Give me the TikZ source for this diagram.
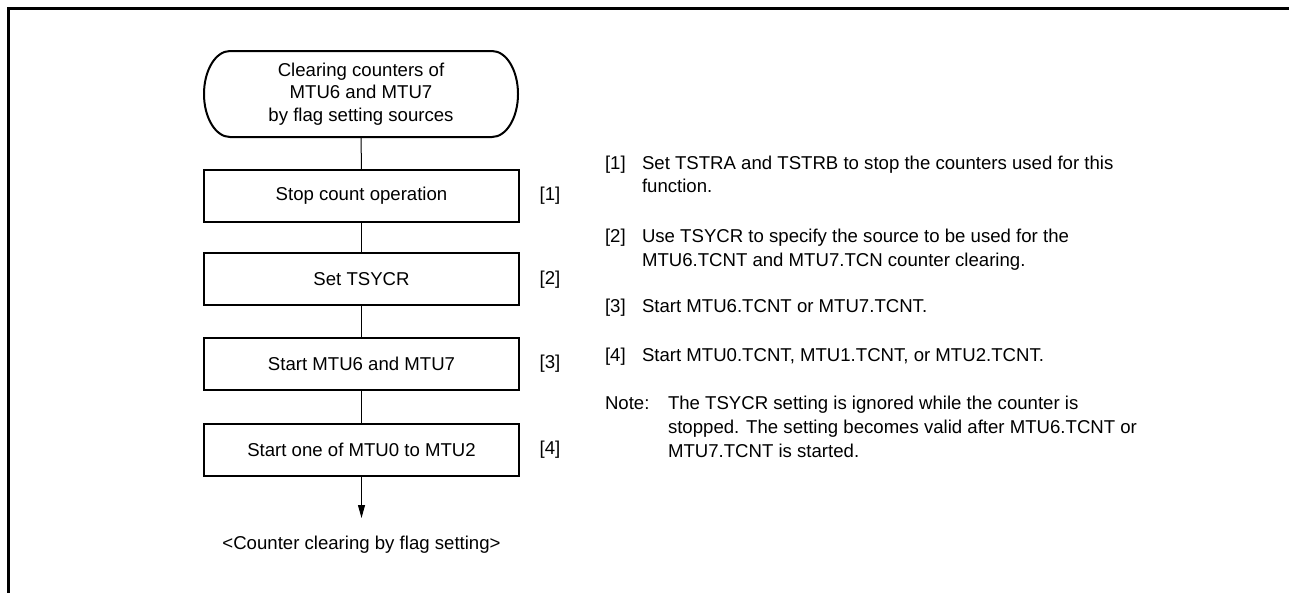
\documentclass[tikz,border=0pt]{standalone}
\usepackage{fontspec}
\setmainfont{Liberation Sans}
\usetikzlibrary{arrows.meta}
\begin{document}
\begin{tikzpicture}[x=1pt,y=-1pt,
  every node/.style={font=\fontsize{18.6}{22.5}\selectfont, inner sep=0pt, outer sep=0pt},
  stepbox/.style={draw, line width=2pt, minimum width=315pt, minimum height=52pt},
  tag/.style={anchor=center},
  note/.style={anchor=base west},
  link/.style={line width=1pt}]
\useasboundingbox (0,0) rectangle (1289,592);
% frame
\draw[line width=3pt] (8.5,600) -- (8.5,8.5) -- (1300,8.5);
% terminal
\node[minimum width=314pt, minimum height=86pt, align=center] (start) at (361,94)
  {Clearing counters of\\MTU6 and MTU7\\by flag setting sources};
\draw[line width=2pt] ([xshift=26pt]start.north west) -- ([xshift=-26pt]start.north east)
  arc[start angle=90,end angle=-90,x radius=26pt,y radius=43pt]
  -- ([xshift=26pt]start.south west)
  arc[start angle=270,end angle=90,x radius=26pt,y radius=43pt] -- cycle;
% steps
\node[stepbox] (s1) at (361.5,196) {Stop count operation};
\node[stepbox] (s2) at (361.5,279) {Set TSYCR};
\node[stepbox] (s3) at (361.5,363.5) {Start MTU6 and MTU7};
\node[stepbox] (s4) at (361.5,450) {Start one of MTU0 to MTU2};
\node[tag] (t1) at (550,196) {[1]};
\node[tag] (t2) at (550,280) {[2]};
\node[tag] (t3) at (550,364) {[3]};
\node[tag] (t4) at (550,450) {[4]};
\coordinate (endp) at (361.5,518);
\draw[link] (start.south) -- (s1.north);
\draw[link] (s1) -- (s2);
\draw[link] (s2) -- (s3);
\draw[link] (s3) -- (s4);
\draw[link, -{Triangle[length=13pt,width=7pt]}] (s4.south) -- (endp);
\node[anchor=base] (result) at (361.5,549) {<Counter clearing by flag setting>};
% notes
\node[note] (n1t) at (605,169) {[1]};
\node[note] (n1a) at (642,169) {Set TSTRA and TSTRB to stop the counters used for this};
\node[note] (n1b) at (642,192.5) {function.};
\node[note] (n2t) at (605,242.5) {[2]};
\node[note] (n2a) at (642,242.5) {Use TSYCR to specify the source to be used for the};
\node[note] (n2b) at (642,266.5) {MTU6.TCNT and MTU7.TCN counter clearing.};
\node[note] (n3t) at (605,312.5) {[3]};
\node[note] (n3a) at (642,312.5) {Start MTU6.TCNT or MTU7.TCNT.};
\node[note] (n4t) at (605,361) {[4]};
\node[note] (n4a) at (642,361) {Start MTU0.TCNT, MTU1.TCNT, or MTU2.TCNT.};
\node[note] (nnt) at (605,409) {Note:};
\node[note] (nna) at (668,409) {The TSYCR setting is ignored while the counter is};
\node[note] (nnb) at (668,433) {stopped. The setting becomes valid after MTU6.TCNT or};
\node[note] (nnc) at (668,457) {MTU7.TCNT is started.};
\end{tikzpicture}
\end{document}
